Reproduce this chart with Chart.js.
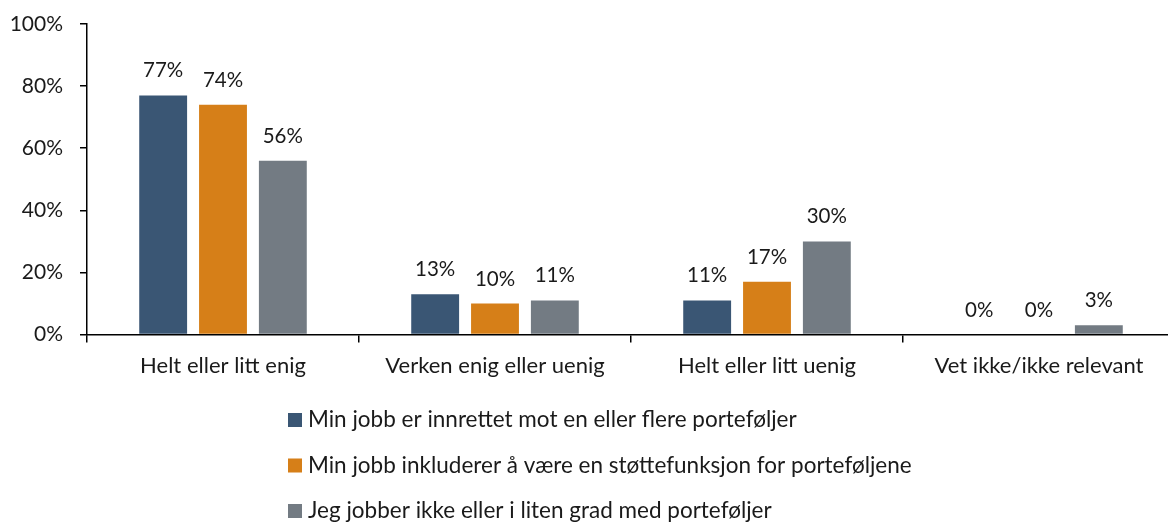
<!DOCTYPE html>
<html>
<head>
<meta charset="utf-8">
<script src="https://cdn.jsdelivr.net/npm/chart.js@4/dist/chart.umd.min.js"></script>
<style>
    html, body { margin: 0; padding: 0; background: #fff; overflow: hidden; }
    #wrap { width: 1175px; height: 522px; }
</style>
</head>
<body>
<div id="wrap"><canvas id="chart"></canvas></div>
<script>
    var categories = ['Helt eller litt enig', 'Verken enig eller uenig', 'Helt eller litt uenig', 'Vet ikke/ikke relevant'];
    var seriesNames = [
        'Min jobb er innrettet mot en eller flere porteføljer',
        'Min jobb inkluderer å være en støttefunksjon for porteføljene',
        'Jeg jobber ikke eller i liten grad med porteføljer'
    ];
    var innrettet = [77, 13, 11, 0];
    var stottefunksjon = [74, 10, 17, 0];
    var ikkePortefolje = [56, 11, 30, 3];
    var yTicks = [0, 20, 40, 60, 80, 100];

    var colors = ['#3a5674', '#d67f18', '#737b83'];
    var textColor = '#1a1a1a';
    var fontFamily = 'Lato, "Open Sans", sans-serif';

    // percent labels over each bar
    var valueLabels = {
        id: 'valueLabels',
        afterDatasetsDraw: function (chart) {
            var ctx = chart.ctx;
            ctx.save();
            ctx.font = '20.5px ' + fontFamily;
            ctx.fillStyle = textColor;
            ctx.textAlign = 'center';
            ctx.textBaseline = 'alphabetic';
            chart.data.datasets.forEach(function (ds, i) {
                chart.getDatasetMeta(i).data.forEach(function (bar, j) {
                    ctx.fillText(ds.data[j] + '%', bar.x, bar.y - 18);
                });
            });
            ctx.restore();
        }
    };

    // stacked legend, one series per row, left aligned
    var listLegend = {
        id: 'listLegend',
        afterDraw: function (chart) {
            var ctx = chart.ctx;
            var left = 288, top = 420, step = 45.5;
            ctx.save();
            ctx.font = '22.5px ' + fontFamily;
            ctx.textBaseline = 'middle';
            ctx.textAlign = 'left';
            chart.data.datasets.forEach(function (ds, i) {
                var y = top + i * step;
                ctx.fillStyle = ds.backgroundColor;
                ctx.fillRect(left, y - 7, 14, 14);
                ctx.fillStyle = textColor;
                ctx.fillText(ds.label, left + 20, y);
            });
            ctx.restore();
        }
    };

    new Chart('chart', {
        type: 'bar',
        data: {
            labels: categories,
            datasets: [
                { label: seriesNames[0], data: innrettet, backgroundColor: colors[0] },
                { label: seriesNames[1], data: stottefunksjon, backgroundColor: colors[1] },
                { label: seriesNames[2], data: ikkePortefolje, backgroundColor: colors[2] }
            ]
        },
        options: {
            responsive: true,
            maintainAspectRatio: false,
            animation: false,
            layout: { padding: { top: 24, bottom: 133, right: 0, left: 0 } },
            datasets: { bar: { categoryPercentage: 0.66, barPercentage: 0.8 } },
            plugins: {
                legend: { display: false },
                tooltip: { enabled: false }
            },
            scales: {
                x: {
                    grid: { offset: true, drawOnChartArea: false, drawTicks: true, tickLength: 8, color: '#000', lineWidth: 1.5 },
                    border: { display: true, color: '#000', width: 1.5 },
                    ticks: { color: textColor, font: { family: fontFamily, size: 22 }, padding: 10 }
                },
                y: {
                    min: 0,
                    max: 100,
                    afterBuildTicks: function (axis) {
                        axis.ticks = yTicks.map(function (v) { return { value: v }; });
                    },
                    afterFit: function (axis) {
                        axis.width = 87;
                        axis.paddingTop = 0;
                        axis.paddingBottom = 0;
                    },
                    grid: { drawOnChartArea: false, drawTicks: true, tickLength: 7, color: '#000', lineWidth: 1.5 },
                    border: { display: true, color: '#000', width: 1.5 },
                    ticks: {
                        color: textColor,
                        font: { family: fontFamily, size: 21 },
                        padding: 17,
                        callback: function (v) { return v + '%'; }
                    }
                }
            }
        },
        plugins: [valueLabels, listLegend]
    });
</script>
</body>
</html>
